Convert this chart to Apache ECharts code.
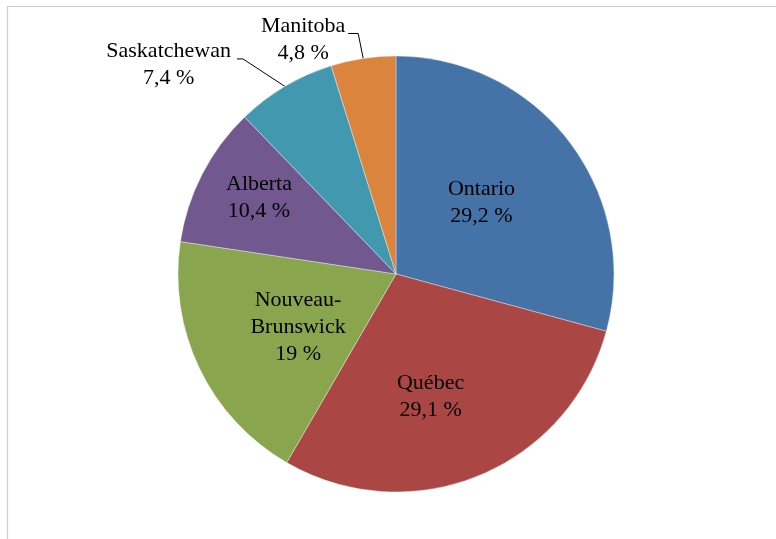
<!DOCTYPE html>
<html>
<head>
<meta charset="utf-8">
<script src="https://cdn.jsdelivr.net/npm/echarts@6/dist/echarts.min.js"></script>
<style>
  html, body { margin: 0; padding: 0; background: #fff; }
  #chart { width: 776px; height: 539px; }
</style>
</head>
<body>
<div id="chart"></div>
<script>
// Share by province
const provinces = ['Ontario', 'Québec', 'Nouveau-Brunswick', 'Alberta', 'Saskatchewan', 'Manitoba'];
const shares = [29.2, 29.1, 19, 10.4, 7.4, 4.8];
const sliceColors = ['#4572A7', '#AA4643', '#89A54E', '#71588F', '#4198AF', '#DB843D'];

// Label placement: inside labels are nudged from their default anchor,
// outside labels get a two-segment leader (slanted leg + short horizontal tail).
const labelPlacement = [
  { inside: true, dx: -3.5, dy: -3 },
  { inside: true, dx: -8, dy: 19 },
  { inside: true, dx: 3, dy: 4.5 },
  { inside: true, dx: -37.5, dy: -24.5 },
  { inside: false, leg: [-42, -27.5], tail: -6, gap: 6, dy: 5.5 },
  { inside: false, leg: [-5, -25], tail: -10, gap: 3, dy: 6.5 }
];

const SERIF = 'Liberation Serif';

const fmtPct = v => String(v).replace('.', ',') + ' %';

const pieData = provinces.map((name, i) => ({
  name: name,
  value: shares[i],
  itemStyle: { color: sliceColors[i] },
  label: { position: labelPlacement[i].inside ? 'inside' : 'outside' },
  labelLine: { show: !labelPlacement[i].inside }
}));

const chart = echarts.init(document.getElementById('chart'), null, { renderer: 'canvas' });

chart.setOption({
  animation: false,
  backgroundColor: '#ffffff',
  textStyle: { fontFamily: SERIF },
  graphic: [{
    type: 'rect',
    shape: { x: 7.5, y: 6.5, width: 900, height: 700 },
    style: { fill: 'none', stroke: '#cfcfcf', lineWidth: 1.2 },
    silent: true
  }],
  series: [{
    type: 'pie',
    center: [396, 274],
    radius: 218,
    startAngle: 90,
    clockwise: true,
    avoidLabelOverlap: false,
    data: pieData,
    itemStyle: { borderColor: 'rgba(255,255,255,0.6)', borderWidth: 0.6 },
    label: {
      show: true,
      color: '#000',
      fontFamily: SERIF,
      fontSize: 22,
      lineHeight: 27,
      align: 'center',
      formatter: p => p.name.replace('-', '-\n') + '\n' + fmtPct(p.value)
    },
    labelLine: {
      length: 20,
      length2: 8,
      smooth: false,
      lineStyle: { color: '#000', width: 1 }
    },
    labelLayout: function (params) {
      const cfg = labelPlacement[params.dataIndex];
      const r = params.labelRect;
      if (cfg.inside) {
        return {
          x: r.x + r.width / 2 + cfg.dx,
          y: r.y + r.height / 2 + cfg.dy,
          align: 'center',
          verticalAlign: 'middle'
        };
      }
      const p0 = params.labelLinePoints[0];
      const p1 = [p0[0] + cfg.leg[0], p0[1] + cfg.leg[1]];
      const p2 = [p1[0] + cfg.tail, p1[1]];
      return {
        x: p2[0] - cfg.gap - r.width / 2,
        y: p2[1] + cfg.dy,
        align: 'center',
        verticalAlign: 'middle',
        labelLinePoints: [p0, p1, p2]
      };
    }
  }]
});
</script>
</body>
</html>
